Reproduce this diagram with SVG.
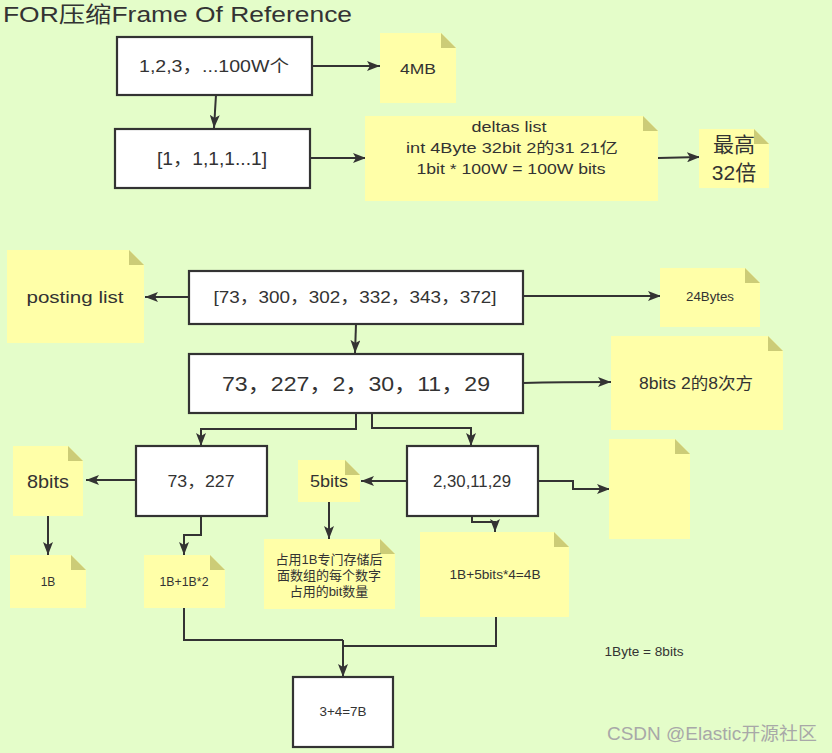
<svg xmlns="http://www.w3.org/2000/svg" width="832" height="753" viewBox="0 0 832 753">
<defs>
<style>
text{font-family:"Liberation Sans","Noto Sans CJK SC",sans-serif;fill:#333;text-anchor:middle;dominant-baseline:central}
.box{fill:#fff;stroke:#333;stroke-width:2.2}
.note{fill:#ffffa8}
.fold{fill:#cccc77}
.c path{fill:none;stroke:#333;stroke-width:2;marker-end:url(#ah)}
</style>
<marker id="ah" markerUnits="userSpaceOnUse" markerWidth="14" markerHeight="10" refX="13" refY="5" orient="auto">
<path d="M0,0 L13,5 L0,10 L3,5 Z" fill="#333"/>
</marker>
</defs>
<rect width="832" height="753" fill="#e4fdc9"/>
<text x="3" y="14" style="text-anchor:start;font-size:22px" textLength="349" lengthAdjust="spacingAndGlyphs">FOR压缩Frame Of Reference</text>

<g class="c" id="connectors">
<path d="M312,66 H380"/>
<path d="M216,95 L214,128"/>
<path d="M310,158 H366"/>
<path d="M658,158 L700,157"/>
<path d="M189,297 H145"/>
<path d="M523,296 H661"/>
<path d="M356,324 L355,353"/>
<path d="M523,383 C560,382 580,382 611,382"/>
<path d="M356,413 V429 H201 V446"/>
<path d="M372,413 V428 H471 V446"/>
<path d="M136,480 H86"/>
<path d="M48,516 V555"/>
<path d="M201,516 V535 H184 V555"/>
<path d="M407,481 H361"/>
<path d="M329,502 V539"/>
<path d="M538,481 H573 V489 H610"/>
<path d="M472,516 V522 H495 V532"/>
<path d="M184,608 V640 H343" style="marker-end:none"/>
<path d="M496,617 V646 H343" style="marker-end:none"/>
<path d="M343,640 V677"/>
</g>

<g id="box1"><rect class="box" x="117" y="37" width="195" height="58"/><text x="214" y="66" style="font-size:17px" textLength="150" lengthAdjust="spacingAndGlyphs">1,2,3，...100W个</text></g>
<g id="box2"><rect class="box" x="115" y="129" width="195" height="59"/><text x="212" y="159" style="font-size:18px" textLength="110" lengthAdjust="spacingAndGlyphs">[1，1,1,1...1]</text></g>
<g id="box3"><rect class="box" x="189" y="271" width="334" height="53"/><text x="355" y="297" style="font-size:17px" textLength="283" lengthAdjust="spacingAndGlyphs">[73，300，302，332，343，372]</text></g>
<g id="box4"><rect class="box" x="189" y="354" width="334" height="59"/><text x="356" y="383" style="font-size:21px" textLength="268" lengthAdjust="spacingAndGlyphs">73，227，2，30，11，29</text></g>
<g id="box5"><rect class="box" x="136" y="446" width="131" height="70"/><text x="201" y="481" style="font-size:16px" textLength="67" lengthAdjust="spacingAndGlyphs">73，227</text></g>
<g id="box6"><rect class="box" x="407" y="446" width="131" height="70"/><text x="472" y="481" style="font-size:16px" textLength="78" lengthAdjust="spacingAndGlyphs">2,30,11,29</text></g>
<g id="box7"><rect class="box" x="293" y="677" width="100" height="70"/><text x="343" y="712" style="font-size:12px" textLength="47" lengthAdjust="spacingAndGlyphs">3+4=7B</text></g>

<g id="note4mb"><path class="note" d="M380,33 H441 L456,48 V103 H380 Z"/><path class="fold" d="M441,33 L456,48 H441 Z"/><text x="418" y="68" style="font-size:15px" textLength="36" lengthAdjust="spacingAndGlyphs">4MB</text></g>
<g id="notedeltas"><path class="note" d="M365,116 H643 L658,131 V201 H365 Z"/><path class="fold" d="M643,116 L658,131 H643 Z"/>
<text x="509" y="126" style="font-size:15px" textLength="75" lengthAdjust="spacingAndGlyphs">deltas list</text>
<text x="512" y="147" style="font-size:15px" textLength="212" lengthAdjust="spacingAndGlyphs">int 4Byte 32bit  2的31 21亿</text>
<text x="511" y="168" style="font-size:15px" textLength="189" lengthAdjust="spacingAndGlyphs">1bit * 100W = 100W bits</text></g>
<g id="note32x"><path class="note" d="M699,129 H754 L769,144 V188 H699 Z"/><path class="fold" d="M754,129 L769,144 H754 Z"/>
<text x="734" y="144" style="font-size:21px">最高</text><text x="734" y="172" style="font-size:21px">32倍</text></g>
<g id="noteposting"><path class="note" d="M7,250 H129 L144,265 V343 H7 Z"/><path class="fold" d="M129,250 L144,265 H129 Z"/><text x="75" y="297" style="font-size:17px" textLength="97" lengthAdjust="spacingAndGlyphs">posting list</text></g>
<g id="note24"><path class="note" d="M660,268 H745 L760,283 V327 H660 Z"/><path class="fold" d="M745,268 L760,283 H745 Z"/><text x="710" y="297" style="font-size:12px" textLength="48" lengthAdjust="spacingAndGlyphs">24Bytes</text></g>
<g id="note8bits28"><path class="note" d="M611,336 H768 L783,351 V430 H611 Z"/><path class="fold" d="M768,336 L783,351 H768 Z"/><text x="696" y="383" style="font-size:16px" textLength="114" lengthAdjust="spacingAndGlyphs">8bits 2的8次方</text></g>
<g id="note8bits"><path class="note" d="M13,446 H68 L83,461 V516 H13 Z"/><path class="fold" d="M68,446 L83,461 H68 Z"/><text x="48" y="481" style="font-size:19px" textLength="42" lengthAdjust="spacingAndGlyphs">8bits</text></g>
<g id="note1b"><path class="note" d="M10,555 H71 L86,570 V608 H10 Z"/><path class="fold" d="M71,555 L86,570 H71 Z"/><text x="48" y="582" style="font-size:12px">1B</text></g>
<g id="note1b2"><path class="note" d="M144,555 H210 L225,570 V608 H144 Z"/><path class="fold" d="M210,555 L225,570 H210 Z"/><text x="184" y="582" style="font-size:12px" textLength="49" lengthAdjust="spacingAndGlyphs">1B+1B*2</text></g>
<g id="note5bits"><path class="note" d="M298,460 H345 L360,475 V502 H298 Z"/><path class="fold" d="M345,460 L360,475 H345 Z"/><text x="329" y="481" style="font-size:16px" textLength="38" lengthAdjust="spacingAndGlyphs">5bits</text></g>
<g id="notezy"><path class="note" d="M264,539 H380 L395,554 V609 H264 Z"/><path class="fold" d="M380,539 L395,554 H380 Z"/>
<text x="329" y="559" style="font-size:13px">占用1B专门存储后</text>
<text x="329" y="575" style="font-size:13px">面数组的每个数字</text>
<text x="329" y="591" style="font-size:13px">占用的bit数量</text></g>
<g id="noteblank"><path class="note" d="M609,439 H675 L690,454 V539 H609 Z"/><path class="fold" d="M675,439 L690,454 H675 Z"/></g>
<g id="note1b5"><path class="note" d="M420,532 H554 L569,547 V617 H420 Z"/><path class="fold" d="M554,532 L569,547 H554 Z"/><text x="495" y="575" style="font-size:12px" textLength="91" lengthAdjust="spacingAndGlyphs">1B+5bits*4=4B</text></g>

<text x="644" y="652" style="font-size:12px" textLength="79" lengthAdjust="spacingAndGlyphs">1Byte = 8bits</text>
<text x="712" y="734" style="font-size:18px;fill:#a8a8a8" textLength="210" lengthAdjust="spacingAndGlyphs">CSDN @Elastic开源社区</text>
</svg>
